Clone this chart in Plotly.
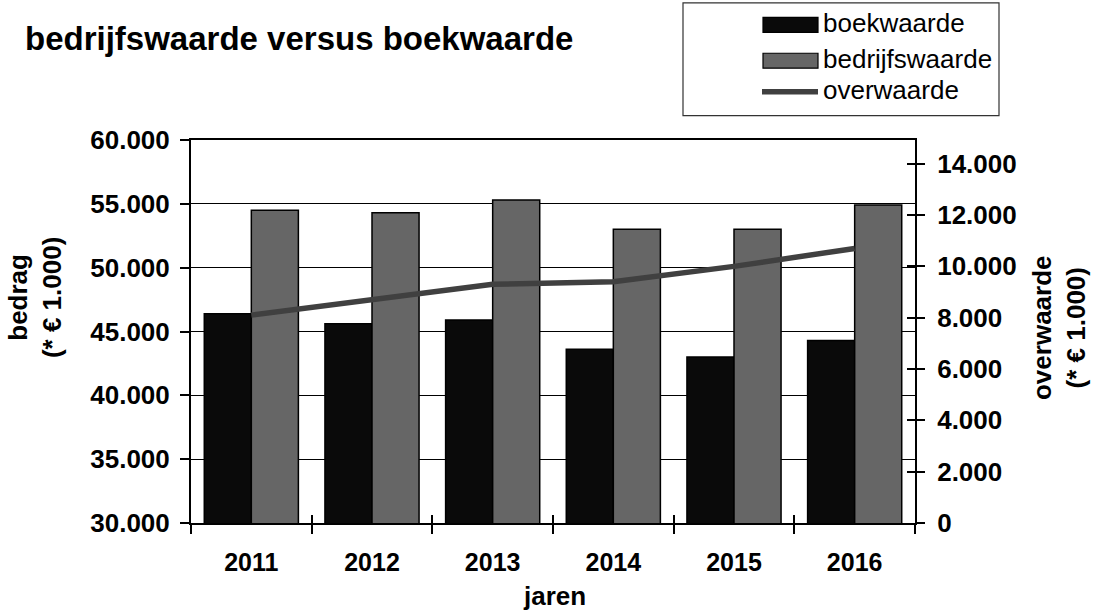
import plotly.graph_objects as go

# --- data -------------------------------------------------------------
jaren = ["2011", "2012", "2013", "2014", "2015", "2016"]
boekwaarde = [46400, 45600, 45900, 43600, 43000, 44300]
bedrijfswaarde = [54500, 54300, 55300, 53000, 53000, 54900]
overwaarde = [8100, 8700, 9300, 9400, 10000, 10700]

links_ticks = [30000, 35000, 40000, 45000, 50000, 55000, 60000]
links_labels = ["30.000", "35.000", "40.000", "45.000", "50.000", "55.000", "60.000"]
rechts_ticks = [0, 2000, 4000, 6000, 8000, 10000, 12000, 14000]
rechts_labels = ["0", "2.000", "4.000", "6.000", "8.000", "10.000", "12.000", "14.000"]

# --- geometry ---------------------------------------------------------
W, H = 1094, 611
L, R, T, B = 191, 915, 139.5, 523.5
FONT = "Liberation Sans, Arial, sans-serif"


def px(x):
    return (x - L) / (R - L)


def py(y):
    return (B - y) / (B - T)


fig = go.Figure()

fig.add_trace(go.Bar(
    x=jaren, y=boekwaarde, name="boekwaarde",
    marker=dict(color="#0a0a0a", line=dict(color="#000000", width=1.5)),
    showlegend=False,
))
fig.add_trace(go.Bar(
    x=jaren, y=bedrijfswaarde, name="bedrijfswaarde",
    marker=dict(color="#666666", line=dict(color="#000000", width=1.5)),
    showlegend=False,
))
fig.add_trace(go.Scatter(
    x=jaren, y=overwaarde, name="overwaarde", yaxis="y2",
    mode="lines", line=dict(color="#404040", width=5.5),
    showlegend=False,
))
# helper traces so the tick-crossing overlay axes get drawn
fig.add_trace(go.Scatter(x=[None], y=[None], xaxis="x3", yaxis="y",
                         showlegend=False, hoverinfo="skip"))
fig.add_trace(go.Scatter(x=[None], y=[None], xaxis="x", yaxis="y3",
                         showlegend=False, hoverinfo="skip"))

tickfont = dict(family=FONT, size=26, color="#000000", weight="bold")

fig.update_layout(
    width=W, height=H,
    margin=dict(l=L, r=W - R, t=T, b=H - B, pad=0),
    paper_bgcolor="#ffffff", plot_bgcolor="#ffffff",
    barmode="group", bargap=0.22, bargroupgap=0,
    showlegend=False,
    xaxis=dict(
        type="category", range=[-0.5, 5.5],
        tickson="boundaries", ticks="outside", ticklen=9, tickwidth=1.5,
        tickcolor="#000000",
        showline=True, linecolor="#000000", linewidth=2, mirror=True,
        showgrid=False, zeroline=False,
        tickfont=dict(family=FONT, size=25, color="#000000", weight="bold"),
        ticklabelstandoff=16,
    ),
    xaxis3=dict(
        overlaying="x", anchor="y", range=[-0.5, 5.5],
        tickvals=[-0.5, 0.5, 1.5, 2.5, 3.5, 4.5, 5.5],
        ticks="inside", ticklen=8, tickwidth=1.5, tickcolor="#000000",
        showticklabels=False, showgrid=False, showline=False, zeroline=False,
    ),
    yaxis=dict(
        range=[30000, 60000], tickvals=links_ticks, ticktext=links_labels,
        ticks="outside", ticklen=9, tickwidth=1.5, tickcolor="#000000",
        showline=True, linecolor="#000000", linewidth=2,
        showgrid=True, gridcolor="#000000", gridwidth=1,
        zeroline=False, tickfont=tickfont, ticklabelstandoff=5,
    ),
    yaxis2=dict(
        overlaying="y", side="right", anchor="x",
        range=[0, 14925], tickvals=rechts_ticks, ticktext=rechts_labels,
        ticks="outside", ticklen=8, tickwidth=1.5, tickcolor="#000000",
        showline=True, linecolor="#000000", linewidth=2,
        showgrid=False, zeroline=False, tickfont=tickfont,
        ticklabelstandoff=7,
    ),
    yaxis3=dict(
        overlaying="y", side="right", anchor="x",
        range=[0, 14925], tickvals=rechts_ticks,
        ticks="inside", ticklen=8, tickwidth=1.5, tickcolor="#000000",
        showticklabels=False, showgrid=False, showline=False, zeroline=False,
    ),
)

# --- titles -----------------------------------------------------------
ann = []
ann.append(dict(
    text="<b>bedrijfswaarde versus boekwaarde</b>",
    xref="paper", yref="paper", x=px(23), y=py(38),
    xanchor="left", yanchor="middle", showarrow=False,
    font=dict(family=FONT, size=33, color="#000000"),
))
ann.append(dict(
    text="<b>bedrag<br>(* € 1.000)</b>",
    xref="paper", yref="paper", x=px(35), y=py(298),
    xanchor="center", yanchor="middle", textangle=-90, showarrow=False,
    font=dict(family=FONT, size=26, color="#000000"),
))
ann.append(dict(
    text="<b>overwaarde<br>(* € 1.000)</b>",
    xref="paper", yref="paper", x=px(1059), y=py(328),
    xanchor="center", yanchor="middle", textangle=-90, showarrow=False,
    font=dict(family=FONT, size=26, color="#000000"),
))
ann.append(dict(
    text="<b>jaren</b>",
    xref="paper", yref="paper", x=px(554), y=py(597),
    xanchor="center", yanchor="middle", showarrow=False,
    font=dict(family=FONT, size=26, color="#000000"),
))

# --- legend box -------------------------------------------------------
shapes = [dict(
    type="rect", xref="paper", yref="paper",
    x0=px(683), x1=px(999), y0=py(115), y1=py(2),
    line=dict(color="#333333", width=1.2), fillcolor="#ffffff",
)]
legend_items = [
    ("boekwaarde", "#0a0a0a", "bar", 24),
    ("bedrijfswaarde", "#666666", "bar", 60),
    ("overwaarde", "#404040", "line", 91),
]
for label, colour, kind, yc in legend_items:
    if kind == "bar":
        shapes.append(dict(
            type="rect", xref="paper", yref="paper",
            x0=px(763), x1=px(818), y0=py(yc + 7.5), y1=py(yc - 7.5),
            line=dict(color="#000000", width=1.2), fillcolor=colour,
        ))
    else:
        shapes.append(dict(
            type="line", xref="paper", yref="paper",
            x0=px(762), x1=px(818), y0=py(yc), y1=py(yc),
            line=dict(color=colour, width=5.5),
        ))
    ann.append(dict(
        text=label, xref="paper", yref="paper", x=px(821), y=py(yc - 2),
        xanchor="left", yanchor="middle", showarrow=False,
        font=dict(family=FONT, size=26, color="#000000"),
    ))

fig.update_layout(annotations=ann, shapes=shapes)

fig.write_html("out.html")
